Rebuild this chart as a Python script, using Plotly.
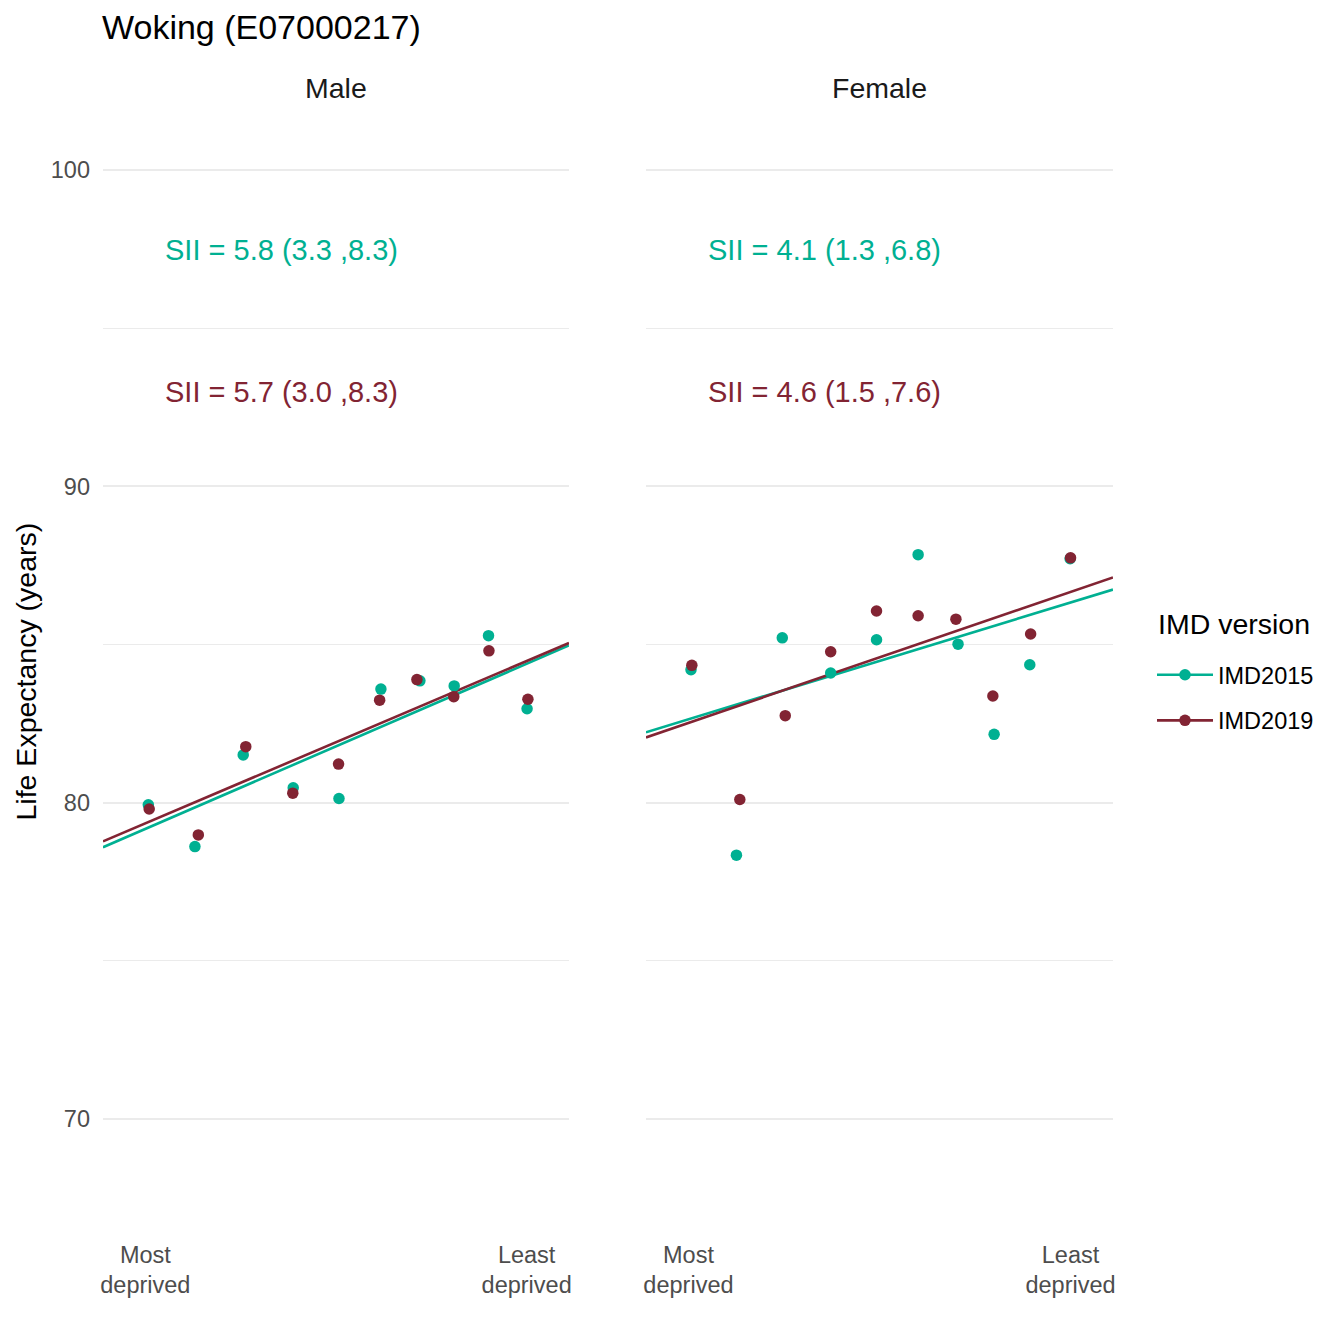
import plotly.graph_objects as go

W = H = 1344
OFF = 8  # page body margin in the browser

# ---------------- data ----------------
title_text = "Woking (E07000217)"
facets = ["Male", "Female"]
versions = ["IMD2015", "IMD2019"]
colors = {"IMD2015": "#00B092", "IMD2019": "#822433"}

# relative deprivation rank (0 = most deprived, 1 = least deprived)
male_x_2015 = [0.057, 0.167, 0.281, 0.399, 0.507, 0.606, 0.698, 0.779, 0.860, 0.951]
male_y_2015 = [79.93, 78.61, 81.51, 80.47, 80.13, 83.59, 83.85, 83.69, 85.28, 82.97]
male_x_2019 = [0.059, 0.175, 0.287, 0.398, 0.506, 0.603, 0.691, 0.778, 0.861, 0.953]
male_y_2019 = [79.80, 78.98, 81.77, 80.30, 81.22, 83.24, 83.89, 83.35, 84.80, 83.27]

female_x_2015 = [0.056, 0.163, 0.271, 0.385, 0.493, 0.591, 0.685, 0.770, 0.854, 0.949]
female_y_2015 = [84.20, 78.34, 85.21, 84.10, 85.15, 87.84, 85.01, 82.16, 84.36, 87.71]
female_x_2019 = [0.058, 0.171, 0.278, 0.385, 0.493, 0.591, 0.680, 0.767, 0.856, 0.950]
female_y_2019 = [84.34, 80.10, 82.75, 84.77, 86.06, 85.91, 85.80, 83.37, 85.33, 87.74]

# slope index of inequality (slope) and intercept of fitted lines
sii_male = {"IMD2015": 5.8, "IMD2019": 5.7}
sii_male_ci = {"IMD2015": (3.3, 8.3), "IMD2019": (3.0, 8.3)}
int_male = {"IMD2015": 78.88, "IMD2019": 79.06}
sii_female = {"IMD2015": 4.1, "IMD2019": 4.6}
sii_female_ci = {"IMD2015": (1.3, 6.8), "IMD2019": (1.5, 7.6)}
int_female = {"IMD2015": 82.43, "IMD2019": 82.29}

x_tick_vals = [0.05, 0.95]
x_tick_text = ["Most<br>deprived", "Least<br>deprived"]
y_tick_vals = [70, 80, 90, 100]
label_y = {"IMD2015": 97.42, "IMD2019": 92.92}
label_x = 0.1

# ---------------- layout constants ----------------
FONT = "Liberation Sans, Arial, Helvetica, sans-serif"
X_RANGE = [-0.05, 1.05]
Y_RANGE = [66.237, 102.055]


def px_x(p):
    return (p - OFF) / W


def px_y(p):
    return 1 - (p - OFF) / H


dom_y = [px_y(1238), px_y(105)]
dom_x1 = [px_x(103), px_x(569)]
dom_x2 = [px_x(646), px_x(1113)]

fig = go.Figure()

points = {
    ("Male", "IMD2015"): (male_x_2015, male_y_2015),
    ("Male", "IMD2019"): (male_x_2019, male_y_2019),
    ("Female", "IMD2015"): (female_x_2015, female_y_2015),
    ("Female", "IMD2019"): (female_x_2019, female_y_2019),
}
slopes = {"Male": sii_male, "Female": sii_female}
cis = {"Male": sii_male_ci, "Female": sii_female_ci}
ints = {"Male": int_male, "Female": int_female}
axes = {"Male": ("x", "y"), "Female": ("x2", "y2")}

# fitted lines
for f in facets:
    xa, ya = axes[f]
    for v in versions:
        b = slopes[f][v]
        a = ints[f][v]
        xs = X_RANGE
        ys = [a + b * xv for xv in xs]
        fig.add_trace(go.Scatter(x=xs, y=ys, mode="lines", xaxis=xa, yaxis=ya,
                                 line=dict(color=colors[v], width=2.6),
                                 showlegend=False, hoverinfo="skip"))
# points
for f in facets:
    xa, ya = axes[f]
    for v in versions:
        px_, py_ = points[(f, v)]
        fig.add_trace(go.Scatter(x=px_, y=py_, mode="markers", xaxis=xa, yaxis=ya,
                                 marker=dict(color=colors[v], size=11.5, line=dict(width=0)),
                                 showlegend=False))

# legend-only traces
for v in versions:
    fig.add_trace(go.Scatter(x=[None], y=[None], mode="lines+markers", name=v,
                             legendgroup=v,
                             line=dict(color=colors[v], width=2.6),
                             marker=dict(color=colors[v], size=11.5)))

annotations = []
# SII labels
for f in facets:
    xa, ya = axes[f]
    for v in versions:
        lo, hi = cis[f][v]
        txt = f"SII = {slopes[f][v]:.1f} ({lo:.1f} ,{hi:.1f})"
        annotations.append(dict(x=label_x, y=label_y[v], xref=xa, yref=ya, text=txt,
                                showarrow=False, xanchor="left", yanchor="middle",
                                xshift=-4, yshift=2,
                                font=dict(family=FONT, size=29, color=colors[v])))

# strip labels
for f, dom in zip(facets, [dom_x1, dom_x2]):
    annotations.append(dict(x=(dom[0] + dom[1]) / 2, y=px_y(88), xref="paper", yref="paper",
                            text=f, showarrow=False, xanchor="center", yanchor="middle",
                            font=dict(family=FONT, size=28.5, color="#1A1A1A")))
# title
annotations.append(dict(x=px_x(100), y=px_y(27), xref="paper", yref="paper", text=title_text,
                        showarrow=False, xanchor="left", yanchor="middle",
                        font=dict(family=FONT, size=34, color="#000000")))
# y-axis title
annotations.append(dict(x=px_x(25), y=(dom_y[0] + dom_y[1]) / 2, xref="paper", yref="paper",
                        text="Life Expectancy (years)", textangle=-90, showarrow=False,
                        xanchor="center", yanchor="middle",
                        font=dict(family=FONT, size=28.5, color="#000000")))
# legend title
annotations.append(dict(x=px_x(1156), y=px_y(624), xref="paper", yref="paper",
                        text="IMD version", showarrow=False, xanchor="left", yanchor="middle",
                        font=dict(family=FONT, size=28.5, color="#000000")))

xaxis_common = dict(range=X_RANGE, tickmode="array", tickvals=x_tick_vals, ticktext=x_tick_text,
                    showgrid=False, zeroline=False, showline=False, ticks="",
                    tickfont=dict(family=FONT, size=23.5, color="#4D4D4D"),
                    ticklabelstandoff=0)
yaxis_common = dict(range=Y_RANGE, domain=dom_y, tickmode="array", tickvals=y_tick_vals,
                    showgrid=True, gridcolor="#EBEBEB", gridwidth=2.4,
                    zeroline=False, showline=False, ticks="",
                    minor=dict(tickmode="array", tickvals=[75, 85, 95], showgrid=True,
                               gridcolor="#EBEBEB", gridwidth=1.2, ticks=""),
                    tickfont=dict(family=FONT, size=23.5, color="#4D4D4D"))

fig.update_layout(
    width=W, height=H,
    margin=dict(l=0, r=0, t=0, b=0, autoexpand=False),
    paper_bgcolor="white", plot_bgcolor="white",
    font=dict(family=FONT),
    xaxis=dict(domain=dom_x1, anchor="y", **xaxis_common),
    xaxis2=dict(domain=dom_x2, anchor="y2", **xaxis_common),
    yaxis=dict(anchor="x", showticklabels=True, ticklabelstandoff=12, **yaxis_common),
    yaxis2=dict(anchor="x2", showticklabels=False, **yaxis_common),
    annotations=annotations,
    showlegend=True,
    legend=dict(x=px_x(1152), y=px_y(653), xanchor="left", yanchor="top",
                font=dict(family=FONT, size=23.5, color="#000000"),
                bgcolor="rgba(0,0,0,0)", tracegroupgap=12, itemwidth=56),
)

fig.write_html("out.html")
